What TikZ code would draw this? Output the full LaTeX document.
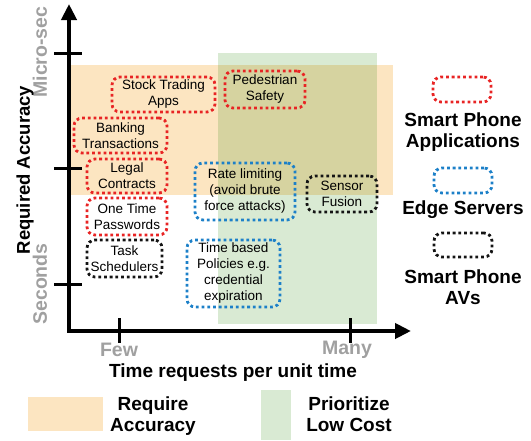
\documentclass[tikz,border=0pt]{standalone}
\usepackage{fontspec}
\setmainfont{Liberation Sans}
\usetikzlibrary{arrows.meta}
\definecolor{accfill}{RGB}{252,229,193}
\definecolor{costfill}{RGB}{217,234,211}
\definecolor{bothfill}{RGB}{214,211,160}
\definecolor{appred}{RGB}{232,36,36}
\definecolor{edgeblue}{RGB}{28,128,200}
\definecolor{avblack}{RGB}{20,20,20}
\definecolor{axisgray}{RGB}{160,160,160}
\tikzset{
  usecase/.style={draw, line width=2.8pt, dash pattern=on 2.8pt off 2.9pt,
    rounded corners=8pt, align=center, inner sep=0pt,
    font=\fontsize{13.5}{16}\selectfont, text=black},
  redbox/.style={usecase, draw=appred},
  bluebox/.style={usecase, draw=edgeblue},
  blackbox/.style={usecase, draw=avblack},
  axislabel/.style={font=\bfseries\fontsize{19}{21}\selectfont, align=center, inner sep=0pt},
  ylabelstyle/.style={font=\bfseries\fontsize{18.5}{21}\selectfont, align=center, inner sep=0pt},
  graylabel/.style={font=\bfseries\fontsize{19.5}{21}\selectfont, text=axisgray, inner sep=0pt},
  legendtext/.style={font=\bfseries\fontsize{19}{21.5}\selectfont, align=center, inner sep=0pt},
  axisline/.style={line width=4pt, black},
  tickline/.style={line width=3pt, black},
}
\begin{document}
\begin{tikzpicture}[x=1pt,y=-1pt]
\useasboundingbox (0,0) rectangle (531,440);
% regions
\fill[accfill] (69,65) rectangle (393,195);
\fill[costfill] (218,53) rectangle (377,324);
\fill[bothfill] (218,65) rectangle (377,195);
% axes
\coordinate (ytip) at (69,4);
\coordinate (origin) at (69,331);
\coordinate (xtip) at (411,331);
\draw[axisline, -{Triangle[length=16pt,width=15pt]}] (origin) -- (ytip);
\draw[axisline, -{Triangle[length=16pt,width=15pt]}] ([xshift=-2pt]origin) -- (xtip);
% ticks
\coordinate (t1a) at (54,53);  \coordinate (t1b) at (82,53);
\coordinate (t2a) at (54,168); \coordinate (t2b) at (82,168);
\coordinate (t3a) at (54,284); \coordinate (t3b) at (82,284);
\coordinate (f1a) at (119,318); \coordinate (f1b) at (119,343);
\coordinate (f2a) at (350,318); \coordinate (f2b) at (350,343);
\draw[tickline] (t1a) -- (t1b);
\draw[tickline] (t2a) -- (t2b);
\draw[tickline] (t3a) -- (t3b);
\draw[tickline] (f1a) -- (f1b);
\draw[tickline] (f2a) -- (f2b);
% axis labels
\node[graylabel, rotate=90] (micro) at (40,52) {Micro-sec};
\node[graylabel, rotate=90] (secs) at (40,284) {Seconds};
\node[ylabelstyle, rotate=90] (ylab) at (25,170) {Required Accuracy};
\node[graylabel] (few) at (119,350) {Few};
\node[graylabel] (many) at (347,350) {Many};
\node[axislabel] (xlab) at (233,373) {Time requests per unit time};
% use cases
\node[redbox, minimum width=103pt, minimum height=35pt] (stock) at (163.5,94.5) {Stock Trading\\Apps};
\node[redbox, minimum width=80pt, minimum height=37pt] (ped) at (265,89.5) {Pedestrian\\Safety};
\node[redbox, minimum width=93pt, minimum height=35pt] (bank) at (120.5,135.5) {Banking\\Transactions};
\node[redbox, minimum width=80pt, minimum height=34pt] (legal) at (127,176) {Legal\\Contracts};
\node[redbox, minimum width=80pt, minimum height=37pt] (otp) at (127,216.5) {One Time\\Passwords};
\node[blackbox, minimum width=75pt, minimum height=37pt] (task) at (124.5,258.5) {Task\\Schedulers};
\node[bluebox, minimum width=100pt, minimum height=57pt] (rate) at (245,191.5) {Rate limiting\\(avoid brute\\force attacks)};
\node[blackbox, minimum width=70pt, minimum height=36pt] (sensor) at (342,194) {Sensor\\Fusion};
\node[bluebox, minimum width=93pt, minimum height=67pt] (policy) at (233.5,273.5) {Time based\\Policies e.g.\\credential\\expiration};
% legend (right)
\node[redbox, minimum width=58pt, minimum height=25pt] (legred) at (462,89.5) {};
\node[legendtext] (legredtxt) at (463,132) {Smart Phone\\Applications};
\node[bluebox, minimum width=58pt, minimum height=25pt] (legblue) at (463,180.5) {};
\node[legendtext] (legbluetxt) at (463,210) {Edge Servers};
\node[blackbox, minimum width=58pt, minimum height=24pt] (legblack) at (463,245) {};
\node[legendtext] (legblacktxt) at (463,287) {Smart Phone\\AVs};
% legend (bottom)
\fill[accfill] (28,397) rectangle (103,431);
\fill[costfill] (261,390) rectangle (291,440);
\node[legendtext] (reqacc) at (153,416) {Require\\Accuracy};
\node[legendtext] (lowcost) at (349,414) {Prioritize\\Low Cost};
\end{tikzpicture}
\end{document}
